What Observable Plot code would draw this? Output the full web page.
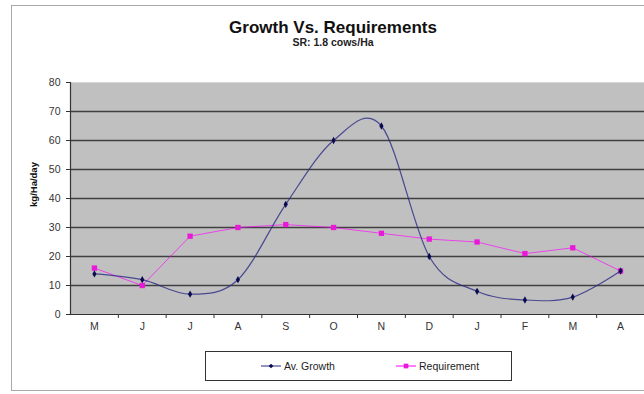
<!DOCTYPE html>
<html>
<head>
<meta charset="utf-8">
<script src="https://cdn.jsdelivr.net/npm/d3@7"></script>
<script src="https://cdn.jsdelivr.net/npm/@observablehq/plot@0.6"></script>
<style>
  html, body { margin: 0; padding: 0; background: #fff; overflow: hidden; }
  #wrap { position: relative; width: 644px; height: 394px; font-family: "Liberation Sans", Arial, sans-serif; }
  #frame { position: absolute; left: 11px; top: 5px; width: 700px; height: 386px; border: 1px solid #a8a8a8; box-sizing: border-box; }
  #title { position: absolute; left: 0; width: 666px; top: 18px; text-align: center; font-weight: bold; font-size: 17px; color: #111; }
  #subtitle { position: absolute; left: 0; width: 666px; top: 36px; text-align: center; font-weight: bold; font-size: 10.5px; color: #222; }
  #chart { position: absolute; left: 0; top: 0; }
  #legend { position: absolute; left: 205px; top: 351px; width: 307px; height: 30px; border: 1px solid #333; box-sizing: border-box; background: #fff; font-size: 10.5px; color: #222; }
  .item { position: absolute; top: 7px; display: flex; align-items: center; gap: 3px; }
  .item svg { display: block; }
</style>
</head>
<body>
<div id="wrap">
  <div id="frame"></div>
  <div id="title">Growth Vs. Requirements</div>
  <div id="subtitle">SR: 1.8 cows/Ha</div>
  <div id="chart"></div>
  <div id="legend"></div>
</div>
<script>
// Months of the grazing season, May through April
const months = ["M", "J", "J", "A", "S", "O", "N", "D", "J", "F", "M", "A"];
// Average pasture growth, kg DM/Ha/day
const growth = [14, 12, 7, 12, 38, 60, 65, 20, 8, 5, 6, 15];
// Herd feed requirement at 1.8 cows/Ha, kg DM/Ha/day
const requirement = [16, 10, 27, 30, 31, 30, 28, 26, 25, 21, 23, 15];
const yTicks = [0, 10, 20, 30, 40, 50, 60, 70, 80];
const gridLines = [10, 20, 30, 40, 50, 60, 70];

const growthColor = "#2a2a84";
const reqColor = "#ff00ff";

const idx = d3.range(months.length);
const growthData = idx.map(i => ({i, v: growth[i]}));
const reqData = idx.map(i => ({i, v: requirement[i]}));
const boundaries = idx.slice(1).map(i => i - 0.5);

const chart = Plot.plot({
  width: 644,
  height: 394,
  marginLeft: 70,
  marginRight: 0,
  marginTop: 82,
  marginBottom: 80,
  style: {fontFamily: "Liberation Sans, Arial, sans-serif", fontSize: "10.5px", color: "#333", background: "transparent"},
  x: {type: "linear", domain: [-0.5, months.length - 0.5], axis: null},
  y: {domain: [0, 80], axis: null},
  marks: [
    Plot.frame({fill: "#c0c0c0", stroke: "#d8d8d8"}),
    Plot.ruleY(gridLines, {stroke: "#404040", strokeWidth: 1.6}),
    // y axis: ticks, labels, title
    Plot.axisY(yTicks, {tickSize: 4, tickPadding: 6, stroke: "#333", color: "#333", fontSize: 10.5, label: null}),
    Plot.text(["kg/Ha/day"], {frameAnchor: "left", textAnchor: "middle", dx: -37, dy: -14, rotate: -90, fontWeight: "bold", fontSize: 9.5, fill: "#111"}),
    Plot.ruleX([-0.5], {stroke: "#333", strokeWidth: 1.2}),
    Plot.ruleY([0], {stroke: "#333", strokeWidth: 1.2}),
    // x axis: small ticks between months, labels at month centres
    Plot.axisX(boundaries, {tickSize: 4, tickFormat: () => "", stroke: "#333", label: null}),
    Plot.axisX(idx, {tickSize: 0, tickPadding: 8, tickFormat: i => months[i], color: "#333", fontSize: 10.5, label: null}),
    // requirement series: straight segments, square markers
    Plot.line(reqData, {x: "i", y: "v", stroke: reqColor, strokeWidth: 1, strokeOpacity: 0.65}),
    Plot.dot(reqData, {x: "i", y: "v", symbol: "square", r: 3, fill: "#e81ad8", stroke: "none"}),
    // growth series: smoothed curve, diamond markers
    Plot.line(growthData, {x: "i", y: "v", curve: "cardinal", stroke: growthColor, strokeWidth: 1.2, strokeOpacity: 0.8}),
    Plot.dot(growthData, {x: "i", y: "v", symbol: "diamond", r: 2.2, fill: "#0a0a50", stroke: "none"})
  ]
});
document.getElementById("chart").appendChild(chart);

// legend
const legendItems = [
  {label: "Av. Growth", color: growthColor, marker: "diamond", mfill: "#0a0a50", left: 55},
  {label: "Requirement", color: reqColor, marker: "square", mfill: "#e81ad8", left: 190}
];
const legend = d3.select("#legend");
for (const it of legendItems) {
  const div = legend.append("div").attr("class", "item").style("left", it.left + "px");
  const svg = div.append("svg").attr("width", 20).attr("height", 14);
  svg.append("line").attr("x1", 0).attr("x2", 20).attr("y1", 7).attr("y2", 7)
    .attr("stroke", it.color).attr("stroke-width", 1);
  svg.append("path").attr("transform", "translate(10,7)")
    .attr("d", d3.symbol(it.marker === "square" ? d3.symbolSquare : d3.symbolDiamond2, it.marker === "square" ? 22 : 14)())
    .attr("fill", it.mfill);
  div.append("span").text(it.label);
}
</script>
</body>
</html>
